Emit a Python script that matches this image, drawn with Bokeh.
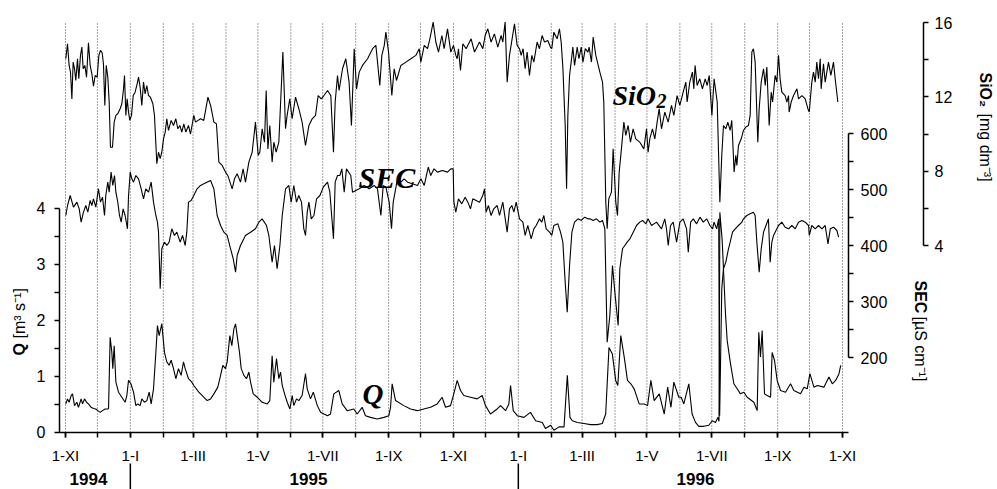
import math
from bokeh.plotting import figure
from bokeh.models import Range1d, LinearAxis, FixedTicker, Label
from bokeh.embed import file_html
from bokeh.resources import INLINE
from bokeh.core.properties import value

# ---------------- data (days since 1 Nov 1994) ----------------
month_days = [0, 30, 61, 92, 120, 151, 181, 212, 242, 273, 304, 334, 365,
              395, 426, 457, 486, 517, 547, 578, 608, 639, 670, 700, 731]
tick_days = [0, 61, 120, 181, 242, 304, 365, 426, 486, 547, 608, 670, 731]
tick_labels = ["1-XI", "1-I", "1-III", "1-V", "1-VII", "1-IX", "1-XI",
               "1-I", "1-III", "1-V", "1-VII", "1-IX", "1-XI"]
year_labels = ["1994", "1995", "1996"]
year_pos = [21.6, 228.6, 592.7]
year_breaks = [61, 426]

sio2_day = [0.3, 1.9, 3.4, 4.7, 6.0, 7.2, 8.5, 9.7, 11.3, 12.5, 14.1, 15.4, 16.6, 18.2, 19.8, 21.6, 23.2, 24.8, 26.3, 27.9,
            29.8, 31.4, 32.9, 34.5, 35.7, 37.0, 38.3, 39.8, 41.1, 42.3, 44.2, 45.8, 47.4, 49.2, 51.4, 53.0, 54.6, 55.5, 56.8, 58.0,
            59.3, 60.5, 62.1, 63.7, 65.5, 67.4, 68.7, 70.2, 71.8, 73.4, 74.9, 76.5, 78.1, 79.9, 82.2, 83.7, 85.0, 85.9, 87.5, 89.1,
            90.6, 92.2, 93.8, 95.3, 96.9, 99.4, 101.6, 103.8, 105.7, 107.6, 109.4, 111.3, 113.2, 115.7, 117.6,
            120.7, 122.3, 127.0, 130.1, 134.0, 136.5, 139.6, 142.0, 144.3, 147.4, 150.5, 152.7, 156.8, 159.0, 161.5, 164.6, 167.1,
            169.3, 172.5, 175.6, 178.7, 181.3, 182.8, 185.0, 187.2, 188.8, 190.4, 192.2, 194.4, 196.0, 198.2, 200.7, 204.5, 207.0,
            208.5, 211.0, 213.2, 216.4, 219.5, 222.6, 225.8, 229.0, 232.1, 235.2, 237.7, 240.6, 243.1,
            246.5, 249.6, 252.1, 253.7, 255.9, 257.4, 260.6, 263.7, 266.8, 269.0, 271.6, 273.8, 276.3, 279.4, 284.2, 288.9, 292.0,
            295.7, 297.6, 299.9, 301.4, 303.9, 307.0, 309.2, 311.4, 315.5, 320.2, 324.9, 329.6, 332.8, 334.3, 337.5, 340.6, 342.8,
            345.9, 348.4, 350.9, 354.1, 356.2, 359.4, 362.5, 365.0, 367.2,
            368.5, 369.7, 371.6, 373.8, 376.9, 381.6, 384.8, 389.5, 392.6, 394.8, 397.3, 400.4, 403.5, 406.7, 409.8, 411.4, 413.6,
            415.5, 417.7, 422.4, 424.9, 427.1, 428.7, 430.5, 432.4, 434.3, 436.5, 438.7, 440.6, 443.7, 445.9, 448.4, 450.6, 453.7,
            456.2, 457.5, 459.4, 462.5, 464.7, 466.3, 467.9, 470.1, 471.4, 472.6, 474.2, 475.7, 477.3, 478.9, 481.4, 483.0, 485.2,
            486.8, 489.0, 491.5,
            492.6, 494.8, 496.4, 498.9, 502.7, 505.2, 506.4, 508.3, 509.6, 511.1, 513.6, 515.2, 517.7, 519.3, 520.9, 523.0, 525.3,
            527.1, 529.3, 531.5, 534.0, 536.5, 540.3, 544.1, 546.6, 548.1, 549.7, 552.2, 554.4, 556.6, 558.5, 560.7, 563.8, 567.0,
            570.1, 572.3, 575.4, 577.9, 581.1, 583.6, 584.8, 587.3, 589.8, 591.1, 592.3, 594.2, 596.7, 599.2, 601.8, 603.7, 605.6,
            608.1, 610.2, 613.1, 615.6,
            617.4, 619.0, 621.2, 623.1, 625.3, 626.8, 627.5, 629.0, 630.6, 631.6, 633.1, 635.7, 637.8, 640.0, 642.5, 644.1, 645.7,
            647.2, 648.8, 651.3, 652.6, 654.5, 656.7, 658.3, 659.8, 662.0, 663.9, 665.2, 667.6, 669.2, 670.8, 672.3, 673.9, 677.0,
            678.6, 680.2, 680.8, 682.7, 684.9, 688.1, 689.6, 692.8, 695.9, 698.4, 699.7, 702.1, 703.7, 705.3, 706.8, 708.4, 710.0,
            710.9, 713.1, 714.7, 717.8, 720.0, 722.5, 724.1, 726.6]
sio2_val = [14.05, 14.86, 13.69, 13.33, 11.89, 13.87, 13.51, 12.88, 14.05, 12.97, 14.23, 14.68, 13.51, 13.69, 13.06, 14.91, 13.69, 13.24, 12.58, 13.15,
            13.06, 14.23, 14.50, 14.37, 13.78, 11.54, 13.69, 13.06, 11.72, 9.29, 9.29, 10.64, 11.00, 11.09, 11.36, 11.63, 12.43, 13.15, 11.00, 11.89,
            11.18, 10.73, 11.00, 12.07, 12.25, 12.70, 13.06, 12.52, 11.54, 12.79, 12.16, 12.61, 12.07, 11.98, 11.63, 11.00, 9.47, 8.40, 9.02, 8.67,
            9.02, 9.74, 10.10, 10.82, 10.19, 10.73, 10.46, 10.82, 10.28, 10.46, 10.10, 10.55, 10.10, 10.46, 10.00,
            11.00, 10.64, 10.82, 10.73, 11.98, 11.54, 10.64, 10.55, 8.49, 8.31, 7.95, 7.77, 7.05, 7.59, 7.86, 7.41, 8.13,
            7.41, 8.49, 9.02, 10.64, 8.85, 9.02, 10.28, 9.56, 12.34, 9.20, 10.46, 8.49, 9.56, 9.02, 9.56, 14.41, 10.28,
            11.00, 11.89, 10.82, 11.98, 11.36, 10.64, 9.38, 10.46, 10.82, 11.00, 12.07, 11.89, 12.07,
            12.34, 12.07, 9.02, 11.72, 13.15, 12.34, 13.51, 14.05, 12.79, 10.46, 14.59, 12.43, 13.33, 13.69, 14.05, 14.59, 14.77,
            12.61, 14.23, 14.77, 15.48, 14.41, 12.07, 13.51, 12.88, 13.69, 13.87, 14.05, 14.23, 14.59, 13.87, 14.77, 14.59, 15.12,
            16.02, 14.95, 14.41, 15.30, 14.59, 15.66, 14.41, 14.77, 14.23,
            14.05, 14.59, 13.42, 14.86, 14.59, 15.12, 14.41, 14.95, 14.59, 15.30, 15.66, 14.95, 15.39, 14.68, 15.30, 14.95, 16.02,
            12.79, 14.23, 15.93, 14.77, 14.59, 14.23, 14.59, 13.51, 14.41, 13.15, 14.23, 13.87, 14.95, 14.59, 15.30, 14.95, 15.03,
            14.68, 14.59, 15.48, 15.12, 15.66, 14.95, 13.60, 10.46, 7.05, 11.00, 13.15, 13.87, 14.68, 13.69, 14.68, 14.05, 14.68,
            13.87, 14.59, 14.41,
            14.68, 13.87, 15.21, 14.23, 13.33, 12.79, 11.72, 6.33, 4.90, 6.51, 6.87, 9.20, 6.33, 5.62, 7.95, 9.20, 10.64,
            9.92, 10.46, 9.56, 10.28, 9.74, 9.56, 9.20, 10.28, 9.02, 9.74, 10.28, 9.74, 10.64, 11.36, 10.28, 11.18, 10.64,
            11.54, 11.00, 12.07, 11.54, 12.25, 12.79, 11.72, 12.79, 13.33, 12.43, 13.69, 12.61, 12.97, 12.43, 12.97, 12.61, 13.15,
            11.00, 12.97, 11.72, 6.33,
            8.85, 10.46, 10.28, 10.64, 10.19, 10.73, 9.92, 7.95, 8.85, 8.31, 9.38, 9.74, 10.19, 10.37, 10.46, 11.00, 14.41,
            14.59, 13.87, 9.56, 11.36, 12.79, 13.51, 12.61, 13.60, 10.46, 12.25, 11.72, 13.15, 12.79, 14.23, 12.97, 12.25, 12.07,
            11.72, 12.07, 11.18, 11.72, 12.07, 12.43, 11.89, 12.07, 11.89, 11.36, 11.18, 12.79, 13.33, 12.79, 13.87, 12.97, 14.05,
            12.43, 13.78, 12.79, 13.87, 13.15, 13.87, 12.97, 11.72]

sec_day = [0.3, 1.9, 4.4, 7.5, 10.7, 12.9, 14.7, 16.9, 19.1, 21.0, 23.2, 24.8, 26.3, 28.5, 31.0, 32.9, 34.8, 36.7, 37.9, 39.8,
           41.1, 42.9, 44.5, 46.1, 47.4, 49.2, 50.8, 52.4, 54.2, 56.1, 58.3, 59.3, 60.9, 62.4, 64.0, 66.2, 68.7, 71.2, 73.4, 75.5,
           78.1, 80.6, 82.8, 85.0, 86.5, 87.5, 89.1, 90.6, 93.1, 95.3, 97.5, 100.0, 102.5, 104.7, 107.9, 110.1, 112.6, 114.1, 115.7,
           118.2, 120.7, 123.8, 127.0, 130.1, 136.5, 139.6, 142.7, 145.9, 149.0, 152.1, 155.3, 157.8, 160.0, 161.5, 164.6, 169.3,
           174.1, 178.7, 181.9, 185.0, 189.1, 191.3, 194.4, 196.6, 199.1, 201.7, 203.9, 207.0, 210.1, 212.3, 214.8, 217.3, 219.5,
           222.0, 224.2, 225.8, 227.4, 229.0, 231.2, 233.7, 236.2, 239.4, 242.5, 246.5, 248.7, 252.1, 253.7, 255.9, 258.1, 260.0,
           262.2, 264.3, 268.4, 270.0, 273.1, 276.3, 281.0, 285.7, 290.4, 293.5, 296.7, 298.9, 301.4, 304.5, 306.7, 308.3, 312.3,
           315.5, 318.6, 321.8, 326.5, 331.2, 334.3, 337.5, 341.3, 343.6, 346.7, 349.9, 354.6, 359.4, 362.5, 364.7, 365.4, 367.2,
           369.7, 372.8, 376.0, 378.5, 381.0, 383.2, 386.3, 389.5, 392.6, 394.2, 395.7, 397.9, 400.4, 402.9, 406.1, 408.3, 411.4,
           415.5, 417.7, 419.9, 421.8, 424.0, 427.1, 430.3, 432.4, 434.9, 438.1, 440.6, 442.8, 445.9, 448.1, 450.0, 452.2, 455.4,
           457.5, 459.4, 463.2, 465.7, 467.9, 470.1, 472.0, 474.2, 476.4, 478.9, 482.1, 485.2, 488.4, 491.5, 493.3, 496.4, 499.5,
           502.7, 505.2, 507.4, 509.6, 512.1, 514.6, 516.8, 519.9, 521.5, 524.0, 526.2, 528.4, 531.0, 534.1, 537.2, 540.3, 542.9,
           546.0, 548.1, 551.3, 556.0, 560.7, 563.8, 565.4, 567.0, 569.2, 571.7, 574.9, 578.0, 581.1, 584.3, 585.9, 588.1, 590.6,
           593.7, 596.9, 600.0, 603.2, 606.3, 608.8, 610.1, 612.6, 614.5, 615.4, 617.4, 619.0, 621.2, 623.7, 625.3, 627.5, 630.0,
           633.1, 636.3, 637.8, 641.0, 644.1, 647.2, 648.8, 650.4, 652.6, 654.5, 656.7, 659.0, 661.3, 662.9, 664.5, 666.1, 667.6,
           670.8, 673.9, 677.0, 680.2, 683.3, 686.5, 689.6, 692.8, 695.9, 699.1, 699.7, 702.1, 705.3, 708.4, 711.6, 714.7, 717.3,
           719.5, 722.5, 725.7, 727.3]
sec_val = [453.6, 471.4, 489.3, 468.5, 477.4, 465.5, 441.7, 459.5, 471.4, 459.5, 480.4, 471.4, 483.3, 468.5, 501.2, 477.4, 486.3, 453.6, 489.3, 513.1,
           495.2, 531.0, 507.2, 525.0, 495.2, 477.4, 453.6, 441.7, 465.5, 453.6, 429.8, 489.3, 531.0, 519.1, 513.1, 525.0, 519.1, 501.2, 483.3, 501.2,
           495.2, 513.1, 477.4, 453.6, 441.7, 423.8, 322.6, 394.1, 406.0, 400.0, 406.0, 429.8, 417.9, 423.8, 406.0, 417.9, 400.0, 423.8, 477.4,
           480.4, 489.3, 501.2, 507.2, 510.1, 516.1, 501.2, 453.6, 435.7, 423.8, 417.9, 394.1, 376.3, 352.4, 382.2, 400.0, 417.9,
           423.8, 429.8, 441.7, 447.6, 435.7, 417.9, 370.3, 400.0, 358.4, 400.0, 453.6, 501.2, 507.2, 477.4, 507.2, 477.4, 489.3,
           477.4, 429.8, 417.9, 459.5, 477.4, 447.6, 453.6, 483.3, 489.3, 504.2, 513.1, 495.2, 411.9, 513.1, 525.0, 525.0, 536.9,
           495.2, 536.9, 525.0, 495.2, 498.2, 501.2, 507.2, 501.2, 507.2, 501.2, 453.6, 507.2, 504.2, 477.4, 429.8, 477.4, 519.1,
           513.1, 519.1, 513.1, 510.1, 507.2, 519.1, 507.2, 539.9, 525.0, 536.9, 531.0, 533.9, 531.0, 536.9, 536.9, 477.4, 459.5,
           483.3, 474.4, 486.3, 477.4, 465.5, 483.3, 480.4, 477.4, 489.3, 501.2, 459.5, 471.4, 453.6, 465.5, 471.4, 453.6, 477.4,
           423.8, 465.5, 471.4, 459.5, 477.4, 447.6, 441.7, 417.9, 435.7, 411.9, 429.8, 435.7, 447.6, 441.7, 453.6, 429.8, 423.8,
           417.9, 435.7, 438.7, 423.8, 406.0, 334.5, 281.0, 364.3, 423.8, 441.7, 447.6, 444.7, 450.6, 447.6, 447.6, 444.7, 447.6,
           441.7, 444.7, 429.8, 227.4, 275.0, 364.3, 316.7, 257.1, 358.4, 394.1, 400.0, 406.0, 411.9, 423.8, 435.7, 441.7, 444.7,
           438.7, 447.6, 435.7, 441.7, 429.8, 447.6, 429.8, 400.0, 435.7, 441.7, 406.0, 441.7, 447.6, 429.8, 388.1, 441.7, 447.6,
           438.7, 450.6, 441.7, 447.6, 435.7, 429.8, 441.7, 429.8, 447.6, 96.0, 322.6, 358.4, 370.3, 394.1, 406.0, 423.8, 429.8,
           435.7, 441.7, 447.6, 453.6, 456.6, 459.5, 453.6, 406.0, 352.4, 394.1, 423.8, 435.7, 447.6, 370.3, 406.0, 417.9, 423.8,
           435.7, 441.7, 432.7, 429.8, 435.7, 429.8, 441.7, 444.7, 441.7, 435.7, 417.9, 435.7, 429.8, 435.7, 429.8, 435.7, 403.0,
           429.8, 432.7, 426.8, 414.9]

q_day = [0.3, 1.9, 3.4, 5.3, 6.6, 8.5, 10.7, 12.2, 14.7, 16.0, 17.9, 19.8, 21.6, 24.1, 26.3, 28.5, 30.4, 32.6, 34.8, 37.3,
         39.8, 40.5, 42.0, 43.6, 44.5, 45.8, 47.4, 49.9, 53.0, 56.1, 57.7, 59.3, 61.5, 64.0, 66.2, 68.0, 70.2, 71.8, 74.3, 76.5,
         78.7, 80.6, 82.8, 85.0, 86.5, 88.1, 90.6, 93.1, 95.3, 97.5, 99.4, 101.6, 103.8, 106.3, 108.8, 111.0, 112.6, 115.7, 118.8,
         120.7, 125.4, 130.1, 133.3, 136.5, 139.6, 143.3, 145.9, 148.0, 150.5, 152.1, 154.6, 156.5, 158.4, 160.0, 161.5, 163.7,
         165.3, 167.8, 170.3, 172.5, 174.1, 176.6, 180.4, 185.0, 189.8, 192.2, 194.4, 196.0, 198.5, 200.7, 202.3, 203.9, 206.1,
         208.6, 211.1, 213.3, 214.8, 217.3, 219.5, 222.6, 225.8, 227.4, 230.5, 233.1, 236.9, 240.0, 243.1, 246.5, 249.3, 252.4,
         257.1, 260.3, 265.0, 271.2, 274.4, 279.1, 282.2, 287.0, 293.3, 299.5, 304.2, 305.8, 307.3, 310.5, 318.3, 324.6, 330.9,
         337.1, 343.4, 349.7, 354.3, 357.5, 362.2, 365.3, 368.5, 371.6, 374.7, 381.0, 387.3, 392.0, 395.1, 399.8, 406.1, 409.3,
         414.0, 417.1, 418.7, 421.2, 425.0, 431.3, 437.4, 442.3, 448.6, 451.5, 456.4, 459.5, 464.3, 469.0, 472.1, 474.6, 476.8,
         481.5, 487.8, 494.0, 500.3, 505.0, 508.2, 511.3, 514.5, 517.6, 519.6, 522.4, 525.6, 528.7, 531.8, 535.0, 539.7, 544.4,
         547.6, 550.7, 553.8, 558.6, 563.3, 566.5, 569.6, 572.3, 577.0, 579.2, 581.7, 586.4, 589.5, 592.7, 595.8, 600.5, 605.2,
         608.4, 611.5, 613.7, 614.8, 615.6, 617.8, 620.9, 622.5, 625.6, 628.8, 631.9, 635.0, 638.2, 641.3, 647.6, 650.7, 652.2,
         653.8, 655.4, 657.6, 660.1, 663.3, 664.8, 667.0, 669.5, 672.7, 677.4, 682.1, 685.2, 691.5, 694.7, 697.8, 700.3, 704.1,
         707.3, 713.5, 718.2, 721.4, 724.5, 727.7, 729.3]
q_val = [0.51, 0.60, 0.54, 0.66, 0.69, 0.48, 0.54, 0.45, 0.60, 0.51, 0.60, 0.54, 0.51, 0.45, 0.43, 0.42, 0.39, 0.36, 0.39, 0.42,
         0.42, 0.43, 1.70, 1.43, 1.14, 1.55, 0.90, 0.72, 0.63, 0.54, 0.66, 0.93, 0.87, 0.72, 0.48, 0.51, 0.48, 0.60, 0.54, 0.57,
         0.72, 0.51, 0.78, 1.43, 1.91, 1.73, 1.94, 1.43, 1.26, 1.20, 1.29, 1.14, 0.96, 1.14, 1.02, 1.26, 1.14, 0.96, 0.90,
         0.84, 0.72, 0.63, 0.57, 0.60, 0.69, 0.81, 1.02, 1.20, 1.14, 1.26, 1.73, 1.55, 1.85, 1.94, 1.73, 1.43,
         1.14, 1.02, 0.96, 1.08, 0.90, 0.69, 0.63, 0.54, 0.51, 0.57, 1.37, 0.90, 1.32, 0.96, 1.08, 0.84, 0.69,
         0.54, 0.42, 0.66, 0.48, 0.60, 0.57, 0.66, 1.05, 0.78, 0.60, 0.72, 0.48, 0.36, 0.33, 0.30, 0.33, 0.69,
         0.75, 0.51, 0.39, 0.42, 0.33, 0.45, 0.30, 0.27, 0.24, 0.27, 0.30, 0.45, 0.87, 0.57, 0.48, 0.42, 0.39,
         0.42, 0.45, 0.51, 0.63, 0.45, 0.48, 0.69, 0.93, 0.75, 0.66, 0.63, 0.60, 0.66, 0.48, 0.33, 0.42, 0.48,
         0.39, 0.51, 0.84, 0.39, 0.30, 0.27, 0.36, 0.21, 0.18, 0.07, 0.13, 0.04, 0.10, 0.10, 1.02, 0.27, 0.21,
         0.18, 0.16, 0.14, 0.14, 0.16, 0.33, 1.52, 1.40, 0.93, 0.84, 1.73, 1.35, 0.93, 0.87, 0.78, 0.51, 0.51,
         0.48, 0.93, 0.57, 0.69, 0.33, 0.81, 0.45, 0.90, 0.63, 0.63, 0.51, 0.87, 0.33, 0.18, 0.11, 0.11, 0.13,
         0.21, 0.18, 0.27, 0.20, 3.93, 3.43, 2.12, 1.64, 1.23, 0.87, 0.78, 0.69, 0.72, 0.63, 0.54, 0.39, 1.79,
         1.35, 1.82, 0.69, 0.66, 0.63, 1.43, 1.29, 0.93, 0.75, 0.72, 0.87, 0.75, 0.69, 0.81, 0.78, 1.05, 0.81,
         0.84, 0.81, 0.99, 0.87, 0.93, 1.05, 1.20]

# ---------------- layout constants ----------------
SANS = "Liberation Sans"
SERIF = "Liberation Serif"
X0, X1 = -5.64, 736.7          # extent of the plotted area (days)
SI_AXIS_AT = 807.2             # day position of the outer SiO2 axis
GRID_TOP = 7.321               # top of the dotted month lines (Q units)

# the frame covers the whole canvas; axes sit at fixed positions inside it
p = figure(width=997, height=489,
           x_range=Range1d(-61.15, 876.8), y_range=Range1d(-1.0179, 7.7143),
           x_axis_type=None, y_axis_type=None,
           output_backend="svg", toolbar_location=None,
           min_border_left=0, min_border_right=0, min_border_top=0, min_border_bottom=0,
           outline_line_color=None, background_fill_color="white",
           border_fill_color="white")
p.extra_y_ranges = {"sec": Range1d(-35.71, 837.5), "si": Range1d(-9.130, 17.184)}

# dotted monthly grid lines
p.segment(x0=month_days, y0=[0] * len(month_days), x1=month_days, y1=[GRID_TOP] * len(month_days),
          line_color="#444444", line_dash="1 2", line_width=1)

p.line(sio2_day, sio2_val, y_range_name="si", line_color="black", line_width=1.1)
p.line(sec_day, sec_val, y_range_name="sec", line_color="black", line_width=1.1)
p.line(q_day, q_val, line_color="black", line_width=1.1)


def style_axis(ax, fs):
    ax.major_tick_in = 0
    ax.minor_tick_in = 0
    ax.major_tick_out = 5
    ax.minor_tick_out = 5
    ax.axis_line_width = 1.5
    ax.major_tick_line_width = 1.5
    ax.minor_tick_line_width = 1.5
    ax.major_label_text_font = SANS
    ax.major_label_text_font_size = fs
    ax.major_label_text_color = "black"


xaxis = LinearAxis(ticker=FixedTicker(ticks=tick_days, minor_ticks=month_days),
                   major_label_overrides={d: t for d, t in zip(tick_days, tick_labels)},
                   bounds=(X0, X1), fixed_location=0)
style_axis(xaxis, "15px")
xaxis.major_label_standoff = 10
p.add_layout(xaxis, "below")

qaxis = LinearAxis(ticker=FixedTicker(ticks=[0, 1, 2, 3, 4], minor_ticks=[0.5, 1.5, 2.5, 3.5]),
                   bounds=(0, 4), fixed_location=X0)
style_axis(qaxis, "16px")
qaxis.major_label_standoff = 9
p.add_layout(qaxis, "left")

secaxis = LinearAxis(y_range_name="sec",
                     ticker=FixedTicker(ticks=[200, 300, 400, 500, 600], minor_ticks=[250, 350, 450, 550]),
                     bounds=(200, 600), fixed_location=X1)
style_axis(secaxis, "16px")
secaxis.major_label_standoff = 7
p.add_layout(secaxis, "right")

siaxis = LinearAxis(y_range_name="si",
                    ticker=FixedTicker(ticks=[4, 8, 12, 16], minor_ticks=[6, 10, 14]),
                    bounds=(4, 16), fixed_location=SI_AXIS_AT)
style_axis(siaxis, "16px")
siaxis.major_label_standoff = 6
p.add_layout(siaxis, "right")

# series names inside the plot
for txt, x, y, fs in [("SEC", 275.7, 4.554, "30px"), ("SiO", 514.6, 6.018, "28px"),
                      ("2", 556.0, 5.911, "20px"), ("Q", 279.4, 0.679, "29px")]:
    p.add_layout(Label(x=x, y=y, text=txt, text_font=SERIF, text_font_style="bold italic",
                       text_font_size=fs, text_color="black",
                       text_align="left", text_baseline="alphabetic"))

# axis titles (bold symbol + regular unit)
titles = [("Q", "bold", -43.3, 1.375, math.pi / 2),
          ("[m\u00b3 s\u207b\u00b9]", "normal", -43.3, 1.679, math.pi / 2),
          ("SEC", "bold", 804.4, 2.714, -math.pi / 2),
          ("[\u00b5S cm\u207b\u00b9]", "normal", 804.4, 2.071, -math.pi / 2),
          ("SiO\u2082", "bold", 865.6, 6.429, -math.pi / 2),
          ("[mg dm\u207b\u00b3]", "normal", 865.6, 5.696, -math.pi / 2)]
for txt, style, x, y, ang in titles:
    p.add_layout(Label(x=x, y=y, text=txt, angle=ang, text_font=SANS, text_font_style=style,
                       text_font_size="16px", text_color="black",
                       text_align="left", text_baseline="middle"))

# years under the date axis, with separators at the turn of the year
p.text(x=year_pos, y=[-0.83] * 3, text=year_labels, text_font=value(SANS),
       text_font_style="bold", text_font_size="17px", text_align="center",
       text_baseline="middle", text_color="black")
p.segment(x0=year_breaks, y0=[-0.554] * 2, x1=year_breaks, y1=[-1.02] * 2,
          line_color="black", line_width=1.5)

open("out.html", "w").write(file_html(p, INLINE))
